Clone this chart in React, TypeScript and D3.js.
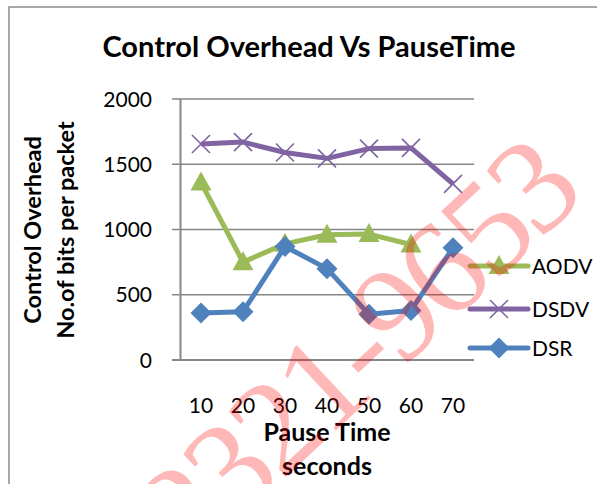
import React from "react";
import * as d3 from "d3";

const categories = ["10", "20", "30", "40", "50", "60", "70"];
const aodv: (number | null)[] = [1360, 750, 890, 960, 965, 885, null];
const dsdv: number[] = [1655, 1670, 1590, 1545, 1620, 1625, 1350];
const dsr: number[] = [360, 370, 870, 700, 350, 380, 860];
const yTicks = [0, 500, 1000, 1500, 2000];

const series = [
  { name: "AODV", values: aodv, color: "#9BBB59", marker: "triangle" },
  { name: "DSDV", values: dsdv, color: "#8064A2", marker: "x" },
  { name: "DSR", values: dsr, color: "#4F81BD", marker: "diamond" },
];

const FONT = "Lato, 'Open Sans', sans-serif";

function Marker({ type, cx, cy, color }: { type: string; cx: number; cy: number; color: string }) {
  if (type === "triangle") {
    const p = d3.path();
    p.moveTo(cx, cy - 11);
    p.lineTo(cx + 10.5, cy + 8);
    p.lineTo(cx - 10.5, cy + 8);
    p.closePath();
    return <path d={p.toString()} fill={color} />;
  }
  if (type === "diamond") {
    const p = d3.path();
    p.moveTo(cx, cy - 10.5);
    p.lineTo(cx + 10.5, cy);
    p.lineTo(cx, cy + 10.5);
    p.lineTo(cx - 10.5, cy);
    p.closePath();
    return <path d={p.toString()} fill={color} />;
  }
  const p = d3.path();
  p.moveTo(cx - 9, cy - 9);
  p.lineTo(cx + 9, cy + 9);
  p.moveTo(cx + 9, cy - 9);
  p.lineTo(cx - 9, cy + 9);
  return <path d={p.toString()} stroke={color} strokeWidth={1.6} fill="none" />;
}

export default function App() {
  const W = 597, H = 484;
  const x = d3.scaleBand().domain(categories).range([180, 474]);
  const cx = (c: string) => (x(c) as number) + x.bandwidth() / 2;
  const y = d3.scaleLinear().domain([0, 2000]).range([360, 99]);
  const line = d3
    .line<[string, number | null]>()
    .defined((d) => d[1] != null)
    .x((d) => cx(d[0]))
    .y((d) => y(d[1] as number));

  const legendY = [266, 309, 348];

  return (
    <svg width={W} height={H} style={{ position: "absolute", left: 0, top: 0, background: "#fff" }}>
      <rect x={0} y={0} width={W} height={H} fill="#fff" />
      <rect x={9} y={7} width={800} height={700} fill="none" stroke="#8c8c8c" strokeWidth={1.5} />
      <text x={309} y={57} textAnchor="middle" fontFamily={FONT} fontWeight="bold" fontSize={29} fill="#000">
        Control Overhead Vs PauseTime
      </text>
      {yTicks.map((t) => (
        <line key={t} x1={172} x2={474} y1={y(t)} y2={y(t)} stroke="#868686" strokeWidth={t === 0 ? 2 : 1.5} />
      ))}
      <line x1={180.5} x2={180.5} y1={99} y2={361} stroke="#868686" strokeWidth={2} />
      {yTicks.map((t) => (
        <text key={t} x={152} y={y(t) + 7.5} textAnchor="end" fontFamily={FONT} fontSize={21} fill="#000">
          {t}
        </text>
      ))}
      {categories.map((c) => (
        <text key={c} x={cx(c)} y={413} textAnchor="middle" fontFamily={FONT} fontSize={21} fill="#000">
          {c}
        </text>
      ))}
      <text x={327} y={441} textAnchor="middle" fontFamily={FONT} fontWeight="bold" fontSize={25} fill="#000">
        Pause Time
      </text>
      <text x={327} y={475} textAnchor="middle" fontFamily={FONT} fontWeight="bold" fontSize={25} fill="#000">
        seconds
      </text>
      <text transform="translate(41,230) rotate(-90)" textAnchor="middle" fontFamily={FONT} fontWeight="bold" fontSize={23.5} fill="#000">
        Control Overhead
      </text>
      <text transform="translate(74,230) rotate(-90)" textAnchor="middle" fontFamily={FONT} fontWeight="bold" fontSize={23.5} fill="#000">
        No.of bits per packet
      </text>
      {series.map((s) => {
        const pts = categories.map((c, i) => [c, s.values[i]] as [string, number | null]);
        return (
          <g key={s.name}>
            <path d={line(pts) || ""} fill="none" stroke={s.color} strokeWidth={5} strokeLinejoin="round" />
            {pts
              .filter((d) => d[1] != null)
              .map((d) => (
                <Marker key={d[0]} type={s.marker} cx={cx(d[0])} cy={y(d[1] as number)} color={s.color} />
              ))}
          </g>
        );
      })}
      {series.map((s, i) => (
        <g key={s.name}>
          <line x1={470} x2={528} y1={legendY[i]} y2={legendY[i]} stroke={s.color} strokeWidth={5} strokeLinecap="round" />
          <Marker type={s.marker} cx={499} cy={legendY[i]} color={s.color} />
          <text x={532} y={legendY[i] + 7.5} fontFamily={FONT} fontSize={21} fill="#000">
            {s.name}
          </text>
        </g>
      ))}
      <text
        transform="translate(585,198) rotate(-43)"
        textAnchor="end"
        fontFamily="'Liberation Serif', serif"
        fontSize={135}
        letterSpacing={-5}
        fill="rgba(255,0,0,0.28)"
      >
        ISSN: 2321-9653
      </text>
    </svg>
  );
}
